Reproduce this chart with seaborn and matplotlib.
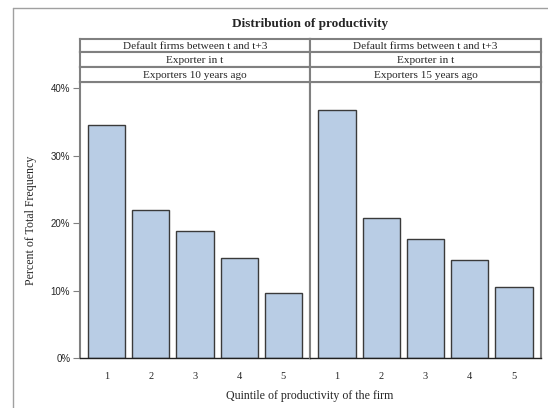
import pandas as pd
import matplotlib.pyplot as plt
import matplotlib.ticker as mticker
from matplotlib.lines import Line2D
import seaborn as sns

# data
quintiles = [1, 2, 3, 4, 5]
pct_10y = [34.5, 21.9, 18.8, 14.8, 9.7]
pct_15y = [36.7, 20.7, 17.6, 14.5, 10.5]
strip_rows = ['Default firms between t and t+3', 'Exporter in t']
panel_labels = ['Exporters 10 years ago', 'Exporters 15 years ago']

df = pd.DataFrame({
    'quintile': quintiles * 2,
    'pct': pct_10y + pct_15y,
    'panel': [panel_labels[0]] * 5 + [panel_labels[1]] * 5,
})

sns.set_style('white')
plt.rcParams['font.family'] = ['Liberation Serif', 'DejaVu Serif']

W, H = 548, 408
fig = plt.figure(figsize=(W / 100, H / 100), dpi=100)

def frac(x0, y0, x1, y1):
    # pixel box (top-left origin) -> figure fraction
    return [x0 / W, 1 - y1 / H, (x1 - x0) / W, (y1 - y0) / H]

grey = '#808080'
bar_fill = '#B9CDE5'
bar_edge = '#3a3a3a'

panel_x = [(80, 310), (310, 541)]
top, bottom = 82, 358
strip_edges = [39, 52, 67, 82]

axes = []
for i, (x0, x1) in enumerate(panel_x):
    ax = fig.add_axes(frac(x0, top, x1, bottom))
    sub = df[df['panel'] == panel_labels[i]]
    sns.barplot(data=sub, x='quintile', y='pct', ax=ax, color=bar_fill,
                edgecolor=bar_edge, linewidth=1.0, width=0.84, saturation=1)
    ax.set_xlim(-0.61, 4.61)
    ax.set_ylim(0, 40.9)
    ax.set_xlabel('')
    ax.set_ylabel('')
    for s in ax.spines.values():
        s.set_color(grey)
        s.set_linewidth(1.5)
    ax.spines['bottom'].set_color('#202020')
    ax.spines['bottom'].set_linewidth(1.0)
    ax.tick_params(axis='x', length=4, color=grey, labelsize=7.5, pad=6)
    if i == 0:
        ax.set_yticks([0, 10, 20, 30, 40])
        ax.yaxis.set_major_formatter(mticker.FuncFormatter(lambda v, p: f'{v:.0f}%'))
        ax.tick_params(axis='y', left=True, length=5, color=grey, labelsize=7, pad=2)
        for lab in ax.get_yticklabels():
            lab.set_family(['Liberation Sans', 'DejaVu Sans'])
    else:
        ax.set_yticks([])
    axes.append(ax)

    # strip headers
    labels = strip_rows + [panel_labels[i]]
    for r in range(3):
        sax = fig.add_axes(frac(x0, strip_edges[r], x1, strip_edges[r + 1]))
        sax.set_xticks([])
        sax.set_yticks([])
        for s in sax.spines.values():
            s.set_color(grey)
            s.set_linewidth(1.5)
        sax.text(0.5, 0.45, labels[r], ha='center', va='center', fontsize=8.1,
                 transform=sax.transAxes)

fig.text(310 / W, 1 - 24 / H, 'Distribution of productivity', ha='center',
         va='center', fontsize=9.5, fontweight='bold')
fig.text(310 / W, 1 - 396 / H, 'Quintile of productivity of the firm',
         ha='center', va='center', fontsize=8.6)
fig.text(31 / W, 1 - 220 / H, 'Percent of Total Frequency', ha='center',
         va='center', rotation=90, fontsize=8.6)

# outer frame (top and left edges)
fig.add_artist(Line2D([13 / W, 1], [1 - 8 / H, 1 - 8 / H], color='#a0a0a0', lw=1))
fig.add_artist(Line2D([13 / W, 13 / W], [0, 1 - 8 / H], color='#a0a0a0', lw=1))

fig.savefig('out.png', dpi=100)
